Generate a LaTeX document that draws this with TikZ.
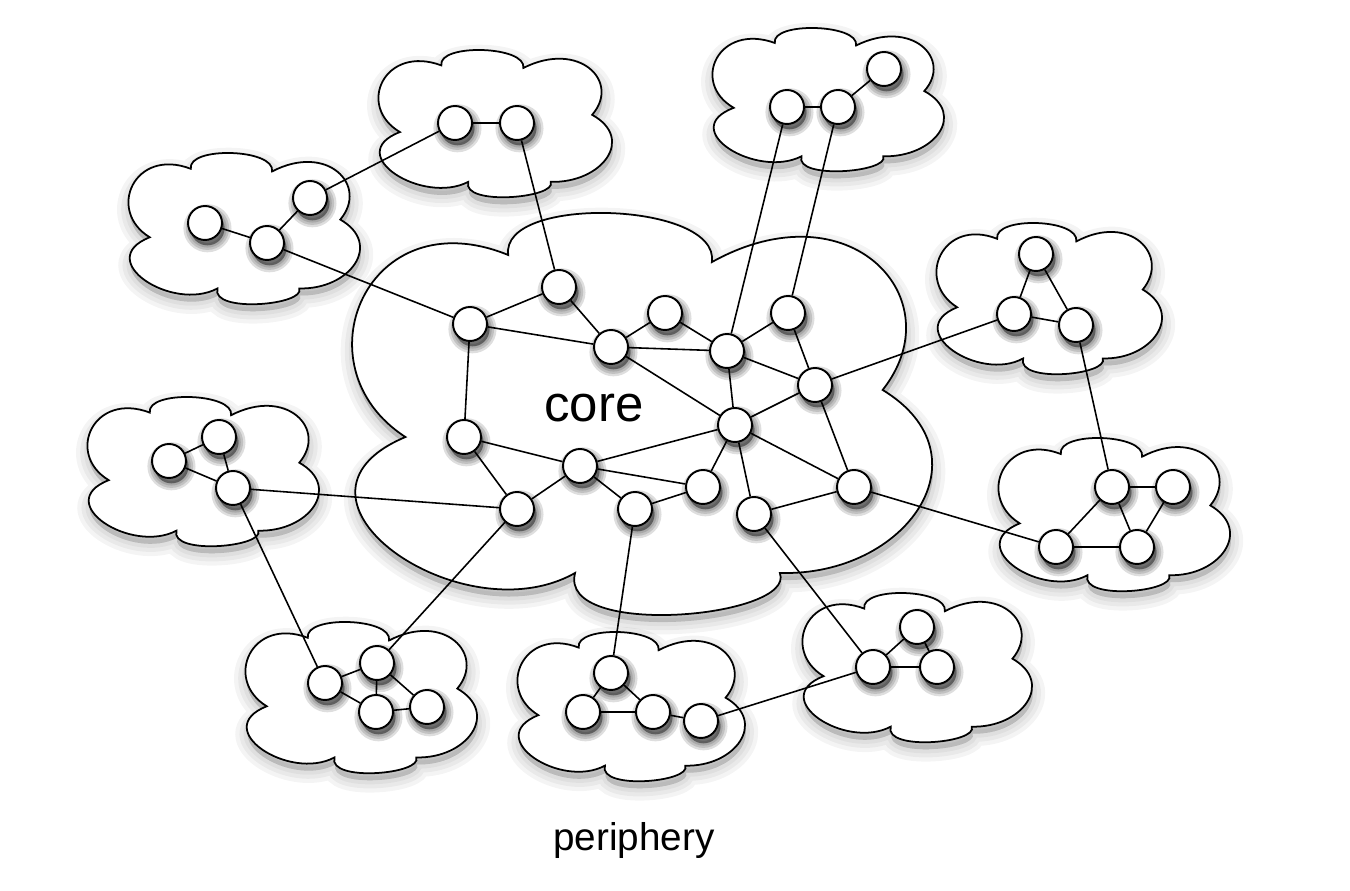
\documentclass[tikz,border=0pt]{standalone}
\usepackage{fontspec}
\setmainfont{Liberation Sans}

\pgfdeclarelayer{clouds}
\pgfdeclarelayer{links}
\pgfsetlayers{clouds,links,main}

\tikzset{
  softshade/.style n args={3}{
    preaction={draw=black,fill=black,opacity=#3,line width=#1,transform canvas={shift={#2}}},
    preaction={draw=black,fill=black,opacity=#3,line width=0.66*#1,transform canvas={shift={#2}}},
    preaction={draw=black,fill=black,opacity=#3,line width=0.33*#1,transform canvas={shift={#2}}},
    preaction={draw=black,fill=black,opacity=#3,line width=0.1pt,transform canvas={shift={#2}}}},
  vertex/.style={circle,draw,fill=white,line width=1.1pt,minimum size=0.68cm,inner sep=0pt,
    softshade={8pt}{(1.4pt,-3pt)}{0.13}},
  puffy/.style={draw,fill=white,line width=1pt,
    softshade={14pt}{(0.5pt,-4pt)}{0.045}},
  link/.style={line width=0.9pt}
}

% one cloud: centre, half width, half height (in px)
\newcommand{\puffcloud}[3]{%
  \path[puffy,shift={#1},xscale=#2,yscale=#3]
    (0.846,-0.124) .. controls (1.096,-0.574) and (0.733,-1.137) .. (0.253,-0.757)
    .. controls (0.283,-1.057) and (-0.484,-1.092) .. (-0.454,-0.792)
    .. controls (-0.944,-1.077) and (-1.191,-0.241) .. (-0.811,0.109)
    .. controls (-1.311,0.409) and (-0.615,1.100) .. (-0.222,0.782)
    .. controls (-0.282,1.112) and (0.549,1.002) .. (0.489,0.782)
    .. controls (0.930,0.800) and (1.220,0.200) .. (0.846,-0.124) -- cycle;}

\begin{document}
\begin{tikzpicture}[x=0.02cm,y=-0.02cm]
  \useasboundingbox (0,0) rectangle (1350,891);

  % the clouds
  \begin{pgfonlayer}{clouds}
    \puffcloud{(639,415)}{288}{202}
    \puffcloud{(243,229)}{115}{76}
    \puffcloud{(494,124)}{116}{74}
    \puffcloud{(827,100)}{115}{72}
    \puffcloud{(1048,299)}{112}{76}
    \puffcloud{(1113,515)}{115}{77}
    \puffcloud{(916,668)}{114}{75}
    \puffcloud{(630,707)}{113}{75}
    \puffcloud{(360,698)}{115}{76}
    \puffcloud{(202,472)}{115}{75}
  \end{pgfonlayer}

  \node[anchor=base] (corelabel) at (594,422) {\fontsize{29}{34}\selectfont core};
  \node[anchor=base] (perilabel) at (634,850) {\fontsize{22}{26}\selectfont periphery};

  % core nodes
  \node[vertex] (c1) at (559,287) {};
  \node[vertex] (c2) at (470,324) {};
  \node[vertex] (c3) at (611,347) {};
  \node[vertex] (c4) at (665,313) {};
  \node[vertex] (c5) at (727,351) {};
  \node[vertex] (c6) at (788,313) {};
  \node[vertex] (c7) at (815,385) {};
  \node[vertex] (c8) at (735,425) {};
  \node[vertex] (c9) at (464,437) {};
  \node[vertex] (c10) at (580,466) {};
  \node[vertex] (c11) at (517,509) {};
  \node[vertex] (c12) at (635,509) {};
  \node[vertex] (c13) at (703,487) {};
  \node[vertex] (c14) at (754,514) {};
  \node[vertex] (c15) at (854,487) {};

  % periphery nodes
  \node[vertex] (a1) at (205,223) {};
  \node[vertex] (a2) at (267,243) {};
  \node[vertex] (a3) at (310,198) {};
  \node[vertex] (b1) at (455,123) {};
  \node[vertex] (b2) at (517,123) {};
  \node[vertex] (k1) at (787,107) {};
  \node[vertex] (k2) at (838,107) {};
  \node[vertex] (k3) at (884,69) {};
  \node[vertex] (d1) at (1036,254) {};
  \node[vertex] (d2) at (1014,314) {};
  \node[vertex] (d3) at (1076,325) {};
  \node[vertex] (e1) at (1112,487) {};
  \node[vertex] (e2) at (1173,487) {};
  \node[vertex] (e3) at (1056,547) {};
  \node[vertex] (e4) at (1137,547) {};
  \node[vertex] (f1) at (917,627) {};
  \node[vertex] (f2) at (873,667) {};
  \node[vertex] (f3) at (937,667) {};
  \node[vertex] (g1) at (611,673) {};
  \node[vertex] (g2) at (583,712) {};
  \node[vertex] (g3) at (653,712) {};
  \node[vertex] (g4) at (701,721) {};
  \node[vertex] (h1) at (325,683) {};
  \node[vertex] (h2) at (377,663) {};
  \node[vertex] (h3) at (376,712) {};
  \node[vertex] (h4) at (427,707) {};
  \node[vertex] (i1) at (169,461) {};
  \node[vertex] (i2) at (219,437) {};
  \node[vertex] (i3) at (233,488) {};

  \begin{pgfonlayer}{links}
    % inside the core
    \draw[link] (c2) -- (c1) -- (c3) -- (c2) -- (c9);
    \draw[link] (c3) -- (c4) -- (c5) -- (c3) -- (c8);
    \draw[link] (c5) -- (c6) -- (c7) -- (c5) -- (c8) -- (c7) -- (c15) -- (c8);
    \draw[link] (c8) -- (c14) -- (c15);
    \draw[link] (c8) -- (c13) -- (c10) -- (c8);
    \draw[link] (c9) -- (c10) -- (c11) -- (c9);
    \draw[link] (c10) -- (c12) -- (c13);
    % inside the periphery
    \draw[link] (a1) -- (a2) -- (a3);
    \draw[link] (b1) -- (b2);
    \draw[link] (k1) -- (k2) -- (k3);
    \draw[link] (d1) -- (d2) -- (d3) -- (d1);
    \draw[link] (e1) -- (e2) -- (e4) -- (e3) -- (e1) -- (e4);
    \draw[link] (f1) -- (f2) -- (f3) -- (f1);
    \draw[link] (g1) -- (g2) -- (g3) -- (g1);
    \draw[link] (g3) -- (g4);
    \draw[link] (h1) -- (h2) -- (h3) -- (h1);
    \draw[link] (h2) -- (h4) -- (h3);
    \draw[link] (i1) -- (i2) -- (i3) -- (i1);
    % between them
    \draw[link] (a3) -- (b1);
    \draw[link] (a2) -- (c2);
    \draw[link] (b2) -- (c1);
    \draw[link] (k1) -- (c5);
    \draw[link] (k2) -- (c6);
    \draw[link] (d2) -- (c7);
    \draw[link] (d3) -- (e1);
    \draw[link] (e3) -- (c15);
    \draw[link] (f2) -- (c14);
    \draw[link] (f2) -- (g4);
    \draw[link] (g1) -- (c12);
    \draw[link] (h2) -- (c11);
    \draw[link] (h1) -- (i3) -- (c11);
  \end{pgfonlayer}
\end{tikzpicture}
\end{document}
